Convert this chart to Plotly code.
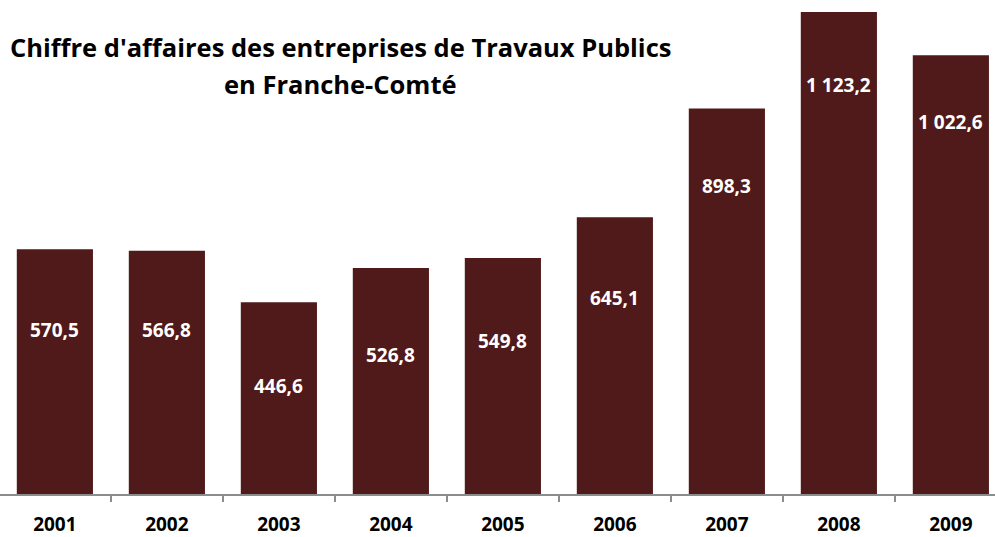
import plotly.graph_objects as go

years = ["2001", "2002", "2003", "2004", "2005", "2006", "2007", "2008", "2009"]
values = [570.5, 566.8, 446.6, 526.8, 549.8, 645.1, 898.3, 1123.2, 1022.6]
labels = ["570,5", "566,8", "446,6", "526,8", "549,8", "645,1", "898,3", "1 123,2", "1 022,6"]
title_lines = ["Chiffre d'affaires des entreprises de Travaux Publics", "en Franche-Comté"]

# style: how far (px) each value label sits below the top of its bar
label_drop = [81, 79, 84, 87, 83, 81, 77, 73, 67]

fig = go.Figure(go.Bar(
    x=years, y=values,
    marker=dict(color="#511A1A", line=dict(width=0)),
    hoverinfo="skip",
))

annotations = [
    dict(x=i, y=v, text=lab, xref="x", yref="y", yshift=-d,
         xanchor="center", yanchor="middle", showarrow=False,
         font=dict(family="Open Sans", size=19, color="white", weight="bold"))
    for i, (v, lab, d) in enumerate(zip(values, labels, label_drop))
]
for i, line in enumerate(title_lines):
    annotations.append(dict(
        text=line, xref="paper", yref="paper", x=340/995, y=(537 - (51 + 40 * i)) / 537,
        yanchor="middle", xanchor="center", showarrow=False,
        font=dict(family="Open Sans", size=25.5, color="black", weight="bold")))

fig.update_layout(
    template="none",
    width=995, height=537,
    margin=dict(l=0, r=0, t=0, b=43, pad=0),
    paper_bgcolor="white", plot_bgcolor="white",
    bargap=0.32,
    showlegend=False,
    xaxis=dict(
        type="category", range=[-0.49, 8.394], automargin=False,
        showline=True, linecolor="#8C8C8C", linewidth=2,
        ticks="outside", tickson="boundaries", ticklen=6, tickcolor="#8C8C8C", tickwidth=1.5,
        ticklabelstandoff=12,
        tickfont=dict(family="Open Sans", size=19, color="black", weight="bold"),
        showgrid=False, zeroline=False,
    ),
    yaxis=dict(range=[0, 1151.2], visible=False, showgrid=False, zeroline=False, automargin=False),
    annotations=annotations,
)

fig.write_html("out.html", config={"displayModeBar": False},
               post_script="document.body.style.margin='0';document.body.style.overflow='hidden';")
